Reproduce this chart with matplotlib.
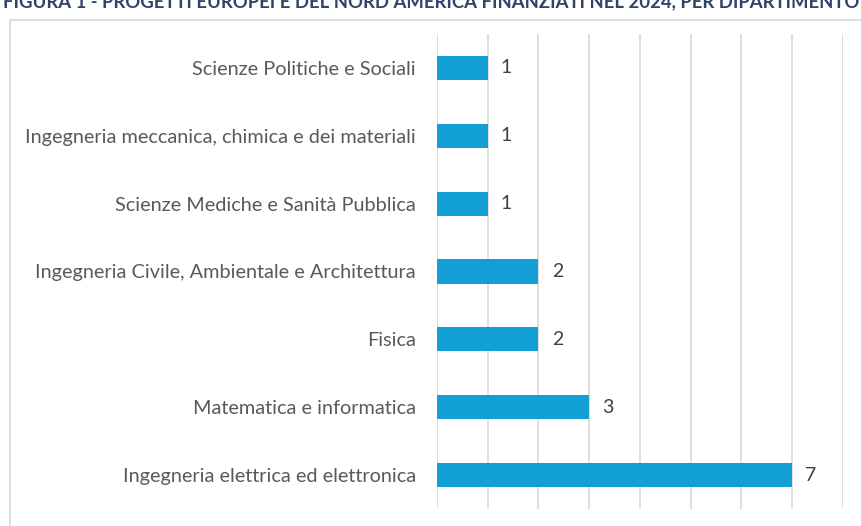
import matplotlib.pyplot as plt
from matplotlib.patches import Rectangle

departments = [
    "Ingegneria elettrica ed elettronica",
    "Matematica e informatica",
    "Fisica",
    "Ingegneria Civile, Ambientale e Architettura",
    "Scienze Mediche e Sanità Pubblica",
    "Ingegneria meccanica, chimica e dei materiali",
    "Scienze Politiche e Sociali",
]
projects = [7, 3, 2, 2, 1, 1, 1]

title = "FIGURA 1 - PROGETTI EUROPEI E DEL NORD AMERICA FINANZIATI NEL 2024, PER DIPARTIMENTO"

plt.rcParams["font.family"] = ["Lato", "DejaVu Sans"]

fig = plt.figure(figsize=(8.61, 5.26), dpi=100)
ax = fig.add_axes([0.5075, 0.0323, 0.4715, 0.9031])

# chart frame (only left and top edges are visible in the crop)
fig.patches.append(Rectangle((10 / 861, -0.05), 1.0, 1 - 20 / 526 + 0.05,
                             transform=fig.transFigure, fill=False,
                             edgecolor="#d9d9d9", linewidth=1.2))

fig.text(0.003, 1 - 2 / 526, title, ha="left", va="center", fontsize=13.3,
         fontweight="bold", color="#2f4468")

y_pos = list(range(len(departments)))
ax.barh(y_pos, projects, height=0.355, color="#119fd6", zorder=3)
for y, v in zip(y_pos, projects):
    ax.text(v + 0.26, y, str(v), ha="left", va="center", fontsize=14, color="#404040")

ax.set_xlim(0, 8)
ax.set_ylim(-0.5, len(departments) - 0.5)
ax.set_xticks(range(0, 9))
ax.set_xticklabels([])
ax.set_yticks(y_pos)
ax.set_yticklabels(departments, fontsize=14.3, color="#595959")
ax.tick_params(length=0, pad=15)
ax.grid(axis="x", color="#d9d9d9", linewidth=1.2, zorder=0)
for spine in ax.spines.values():
    spine.set_visible(False)

fig.savefig("out.png", dpi=100)
